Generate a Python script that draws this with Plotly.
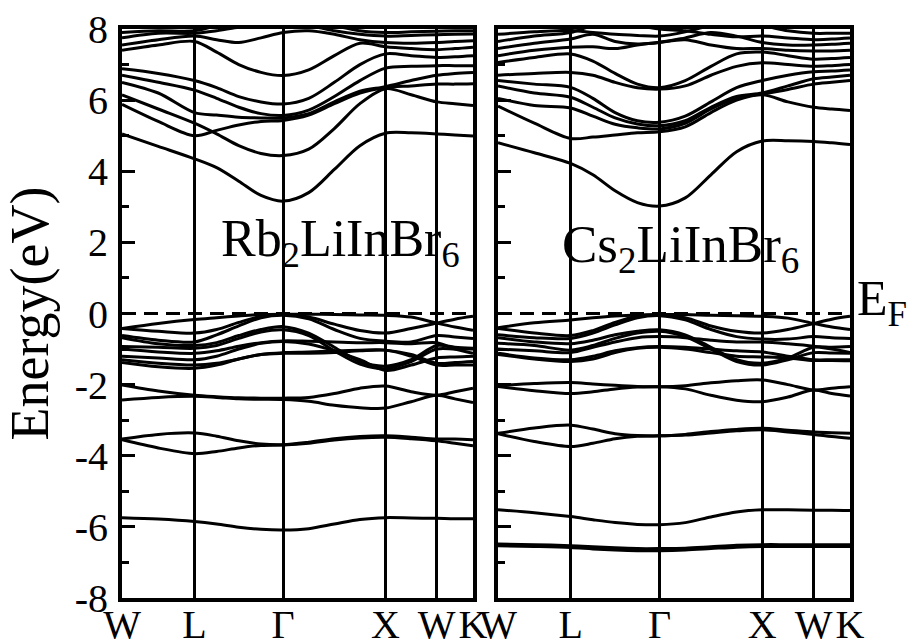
import plotly.graph_objects as go

# ---------------- data ----------------
k_labels = ["W", "L", "Γ", "X", "W", "K"]
k_ticks = [0.0, 0.707, 1.573, 2.573, 3.073, 3.427]
# sampled k positions along W-L-Γ-X-W-K
k_path = [0.0, 0.354, 0.707, 0.924, 1.140, 1.357, 1.573, 1.823, 2.073, 2.323,
          2.573, 2.823, 3.073, 3.250, 3.427]
y_tick_vals = [8, 6, 4, 2, 0, -2, -4, -6, -8]
y_tick_text = ["8", "6", "4", "2", "0", "-2", "-4", "-6", "-8"]

# Rb2LiInBr6 bands (eV) read at k_path
rb_conduction = [
    [5.05, 4.70, 4.35, 4.10, 3.72, 3.32, 3.16, 3.40, 4.05, 4.72, 5.07, 5.08, 5.05, 5.02, 4.99],
    [6.15, 5.75, 5.35, 5.05, 4.72, 4.50, 4.44, 4.62, 5.20, 5.90, 6.32, 6.15, 5.95, 5.90, 5.85],
    [5.88, 5.40, 5.00, 5.15, 5.30, 5.40, 5.43, 5.58, 5.90, 6.20, 6.35, 6.40, 6.45, 6.45, 6.46],
    [6.50, 6.20, 5.65, 5.58, 5.52, 5.50, 5.50, 5.62, 5.95, 6.25, 6.38, 6.55, 6.70, 6.75, 6.78],
    [6.70, 6.50, 6.28, 6.05, 5.80, 5.62, 5.57, 5.72, 6.10, 6.55, 6.90, 6.95, 6.97, 6.97, 6.97],
    [6.88, 6.75, 6.55, 6.35, 6.10, 5.95, 5.89, 6.05, 6.50, 7.00, 7.30, 7.25, 7.20, 7.22, 7.25],
    [7.40, 7.55, 7.65, 7.35, 7.00, 6.78, 6.69, 6.85, 7.25, 7.60, 7.50, 7.45, 7.42, 7.45, 7.49],
    [7.55, 7.70, 7.80, 7.70, 7.62, 7.75, 7.90, 7.95, 7.85, 7.70, 7.62, 7.60, 7.62, 7.65, 7.67],
    [7.75, 7.88, 7.88, 7.95, 8.05, 8.15, 8.20, 8.10, 7.95, 7.85, 7.80, 7.82, 7.84, 7.85, 7.86],
    [7.90, 7.95, 7.95, 8.10, 8.30, 8.40, 8.40, 8.30, 8.10, 7.95, 7.90, 7.92, 7.94, 7.95, 7.95],
]
rb_valence = [
    [-0.42, -0.28, -0.17, -0.12, -0.07, -0.03, -0.02, -0.02, -0.03, -0.04, -0.05, -0.10, -0.27, -0.38, -0.47],
    [-0.42, -0.50, -0.55, -0.45, -0.25, -0.08, -0.02, -0.10, -0.30, -0.48, -0.55, -0.42, -0.27, -0.16, -0.08],
    [-0.62, -0.75, -0.80, -0.60, -0.35, -0.12, -0.05, -0.15, -0.45, -0.70, -0.78, -0.80, -0.62, -0.66, -0.70],
    [-0.68, -0.85, -0.90, -0.82, -0.62, -0.45, -0.37, -0.55, -0.95, -1.35, -1.48, -1.30, -0.90, -0.95, -0.98],
    [-0.93, -0.95, -0.98, -0.90, -0.70, -0.52, -0.46, -0.62, -1.05, -1.42, -1.55, -1.35, -1.00, -1.00, -1.00],
    [-1.00, -1.08, -1.12, -1.05, -0.92, -0.82, -0.77, -0.78, -0.80, -0.82, -0.82, -0.85, -0.82, -1.00, -1.12],
    [-1.20, -1.25, -1.30, -1.20, -1.00, -0.84, -0.79, -0.86, -1.05, -1.30, -1.60, -1.45, -1.25, -1.22, -1.20],
    [-1.30, -1.40, -1.45, -1.40, -1.28, -1.15, -1.10, -1.08, -1.05, -1.03, -1.03, -1.15, -1.40, -1.38, -1.35],
    [-1.38, -1.50, -1.54, -1.45, -1.28, -1.15, -1.12, -1.12, -1.10, -1.05, -1.03, -1.20, -1.45, -1.45, -1.45],
    [-2.01, -2.18, -2.30, -2.34, -2.37, -2.38, -2.38, -2.36, -2.25, -2.10, -2.04, -2.20, -2.30, -2.20, -2.10],
    [-2.43, -2.36, -2.33, -2.36, -2.40, -2.41, -2.42, -2.47, -2.58, -2.65, -2.66, -2.48, -2.30, -2.40, -2.50],
    [-3.53, -3.40, -3.36, -3.45, -3.58, -3.67, -3.69, -3.62, -3.52, -3.46, -3.44, -3.48, -3.53, -3.53, -3.55],
    [-3.55, -3.78, -3.94, -3.88, -3.78, -3.71, -3.70, -3.65, -3.56, -3.50, -3.48, -3.52, -3.58, -3.65, -3.72],
    [-5.74, -5.78, -5.85, -5.92, -6.01, -6.07, -6.09, -6.05, -5.92, -5.79, -5.74, -5.75, -5.76, -5.77, -5.77],
]

# Cs2LiInBr6 bands (eV) read at k_path
cs_conduction = [
    [4.80, 4.52, 4.22, 3.90, 3.45, 3.12, 3.02, 3.25, 3.90, 4.55, 4.85, 4.86, 4.84, 4.80, 4.75],
    [5.83, 5.35, 4.92, 4.96, 5.02, 5.08, 5.11, 5.25, 5.65, 6.00, 6.15, 5.95, 5.80, 5.75, 5.71],
    [6.05, 5.85, 5.78, 5.55, 5.32, 5.22, 5.19, 5.35, 5.75, 6.05, 6.17, 6.30, 6.45, 6.50, 6.55],
    [6.40, 6.20, 6.08, 5.80, 5.50, 5.33, 5.28, 5.42, 5.80, 6.10, 6.20, 6.40, 6.60, 6.65, 6.70],
    [6.55, 6.45, 6.36, 6.05, 5.65, 5.42, 5.38, 5.55, 5.95, 6.35, 6.55, 6.70, 6.80, 6.82, 6.85],
    [6.70, 6.75, 6.78, 6.70, 6.50, 6.35, 6.31, 6.40, 6.70, 6.95, 7.05, 7.00, 6.95, 6.97, 7.00],
    [7.06, 7.20, 7.30, 7.10, 6.75, 6.45, 6.35, 6.55, 6.95, 7.30, 7.35, 7.25, 7.15, 7.17, 7.20],
    [7.25, 7.40, 7.49, 7.50, 7.45, 7.55, 7.63, 7.70, 7.55, 7.45, 7.45, 7.40, 7.38, 7.38, 7.40],
    [7.45, 7.60, 7.72, 7.85, 7.65, 7.58, 7.62, 7.75, 7.90, 7.80, 7.62, 7.55, 7.55, 7.57, 7.60],
    [7.65, 7.80, 7.90, 8.10, 8.20, 8.10, 8.00, 7.95, 7.85, 7.78, 7.80, 7.75, 7.70, 7.72, 7.75],
    [7.85, 7.92, 7.96, 7.90, 7.85, 7.82, 7.80, 7.92, 8.10, 8.20, 8.10, 7.95, 7.88, 7.88, 7.88],
]
cs_valence = [
    [-0.40, -0.26, -0.18, -0.12, -0.07, -0.04, -0.03, -0.03, -0.05, -0.06, -0.08, -0.13, -0.28, -0.38, -0.45],
    [-0.42, -0.55, -0.62, -0.48, -0.25, -0.08, -0.04, -0.12, -0.35, -0.50, -0.55, -0.45, -0.28, -0.16, -0.08],
    [-0.60, -0.68, -0.70, -0.55, -0.32, -0.12, -0.06, -0.18, -0.45, -0.65, -0.72, -0.72, -0.65, -0.68, -0.70],
    [-0.68, -0.80, -0.85, -0.75, -0.60, -0.50, -0.46, -0.60, -0.95, -1.30, -1.40, -1.25, -0.95, -0.95, -0.93],
    [-0.84, -0.90, -1.03, -0.90, -0.70, -0.55, -0.50, -0.65, -1.00, -1.35, -1.45, -1.30, -1.10, -1.11, -1.12],
    [-1.00, -1.05, -1.10, -0.95, -0.80, -0.68, -0.65, -0.68, -0.75, -0.80, -0.80, -0.85, -0.92, -1.00, -1.10],
    [-1.12, -1.25, -1.30, -1.20, -1.05, -0.96, -0.93, -0.95, -1.00, -1.05, -1.08, -1.20, -1.30, -1.30, -1.30],
    [-1.15, -1.28, -1.35, -1.28, -1.10, -0.98, -0.95, -1.00, -1.10, -1.20, -1.22, -1.25, -1.32, -1.32, -1.33],
    [-2.03, -1.97, -1.94, -1.98, -2.02, -2.05, -2.06, -2.03, -1.95, -1.89, -1.87, -2.00, -2.15, -2.10, -2.06],
    [-2.05, -2.17, -2.25, -2.20, -2.12, -2.07, -2.06, -2.12, -2.30, -2.44, -2.48, -2.35, -2.15, -2.25, -2.32],
    [-3.37, -3.22, -3.14, -3.25, -3.38, -3.43, -3.44, -3.40, -3.32, -3.26, -3.23, -3.28, -3.33, -3.35, -3.37],
    [-3.38, -3.60, -3.74, -3.65, -3.52, -3.45, -3.44, -3.42, -3.36, -3.30, -3.27, -3.33, -3.40, -3.46, -3.51],
    [-5.52, -5.60, -5.71, -5.80, -5.88, -5.93, -5.94, -5.88, -5.72, -5.58, -5.52, -5.52, -5.53, -5.53, -5.54],
    [-6.48, -6.50, -6.53, -6.56, -6.59, -6.61, -6.61, -6.60, -6.56, -6.52, -6.50, -6.50, -6.50, -6.50, -6.50],
    [-6.53, -6.55, -6.58, -6.62, -6.65, -6.67, -6.67, -6.65, -6.61, -6.57, -6.55, -6.55, -6.55, -6.55, -6.55],
]

fermi_level = 0.0
panel_labels = ["Rb<sub>2</sub>LiInBr<sub>6</sub>", "Cs<sub>2</sub>LiInBr<sub>6</sub>"]

# ---------------- figure ----------------
FONT = "Liberation Serif"
fig = go.Figure()

def add_bands(bands, xa, ya):
    for b in bands:
        fig.add_trace(go.Scatter(
            x=k_path, y=b, mode="lines", xaxis=xa, yaxis=ya,
            line=dict(color="black", width=3, shape="spline", smoothing=0.9),
            hoverinfo="skip", showlegend=False))
    fig.add_trace(go.Scatter(
        x=[k_ticks[0], k_ticks[-1]], y=[fermi_level, fermi_level], mode="lines",
        xaxis=xa, yaxis=ya, line=dict(color="black", width=3, dash="14px,8px"),
        hoverinfo="skip", showlegend=False))

add_bands(rb_conduction + rb_valence, "x", "y")
add_bands(cs_conduction + cs_valence, "x2", "y2")

xcommon = dict(range=[k_ticks[0], k_ticks[-1]], tickmode="array", tickvals=k_ticks,
               ticktext=k_labels, ticks="", tickangle=0, automargin=False,
               showgrid=True, gridcolor="black",
               gridwidth=3, zeroline=False, showline=True, mirror=True,
               linecolor="black", linewidth=4, ticklabelstandoff=-12,
               tickfont=dict(family=FONT, size=40, color="black"))
ycommon = dict(range=[-8, 8], tickmode="array", tickvals=y_tick_vals, ticktext=y_tick_text,
               ticks="inside", ticklen=13, tickwidth=3, tickcolor="black", automargin=False,
               minor=dict(dtick=1, ticklen=7, tickwidth=2.5, ticks="inside", tickcolor="black"),
               showgrid=False, zeroline=False, showline=True, mirror=True,
               linecolor="black", linewidth=4,
               tickfont=dict(family=FONT, size=40, color="black"))

ydom = [41 / 639, 610 / 639]
fig.update_layout(
    width=909, height=639,
    margin=dict(l=0, r=0, t=0, b=0),
    paper_bgcolor="white", plot_bgcolor="white",
    xaxis=dict(domain=[122 / 909, 473 / 909], anchor="y", **xcommon),
    xaxis2=dict(domain=[498 / 909, 850 / 909], anchor="y2", **xcommon),
    yaxis=dict(domain=ydom, anchor="x", showticklabels=True, ticklabelstandoff=2,
               title=dict(text="Energy(eV)", font=dict(family=FONT, size=54, color="black"),
                          standoff=14),
               **ycommon),
    yaxis2=dict(domain=ydom, anchor="x2", showticklabels=False, **ycommon),
    annotations=[
        dict(text=panel_labels[0], x=340 / 909, y=(639 - 242) / 639, xref="paper", yref="paper",
             xanchor="center", yanchor="middle", showarrow=False,
             font=dict(family=FONT, size=52, color="black")),
        dict(text=panel_labels[1], x=680 / 909, y=(639 - 248) / 639, xref="paper", yref="paper",
             xanchor="center", yanchor="middle", showarrow=False,
             font=dict(family=FONT, size=53, color="black")),
        dict(text="E<sub>F</sub>", x=855 / 909, y=(639 - 302) / 639, xref="paper", yref="paper",
             xanchor="left", yanchor="middle", showarrow=False,
             font=dict(family=FONT, size=50, color="black")),
    ],
)

fig.write_html("out.html")
